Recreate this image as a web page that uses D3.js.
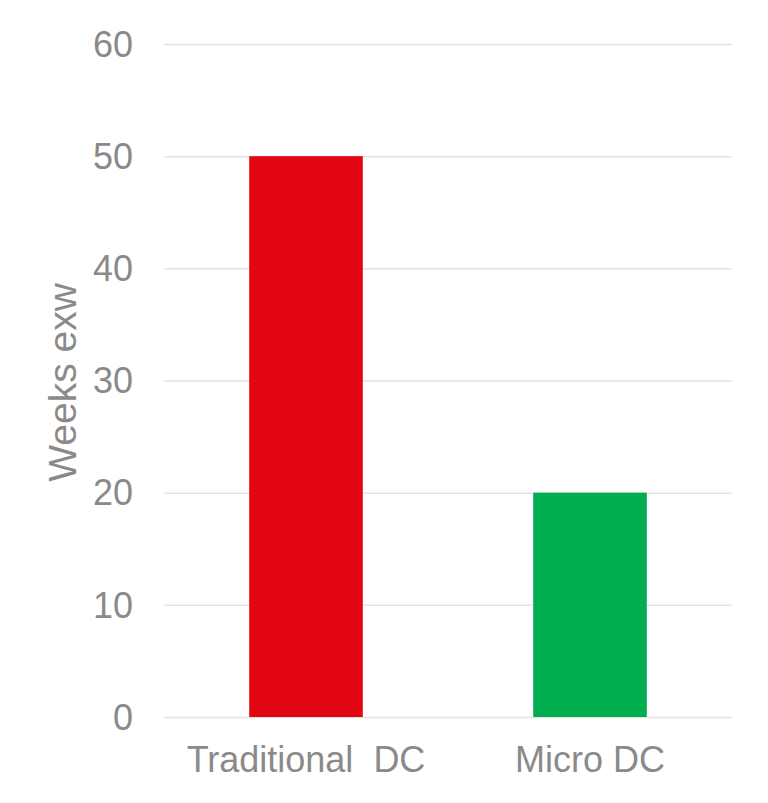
<!DOCTYPE html>
<html lang="en">
	<head>
		<meta charset="utf-8">
		<title>Weeks exw</title>
		<script src="https://unpkg.com/d3@7/dist/d3.min.js"></script>
		<style>
			body { margin: 0; background: #fff; }
			text { font-family: "Liberation Sans", Arial, sans-serif; fill: #8a8a8a; }
		</style>
	</head>
	<body>
		<script type="text/javascript">

			//Chart data
			var categories = ["Traditional  DC", "Micro DC"];
			var weeks = [50, 20];
			var barColors = ["#e20613", "#00ae4f"];
			var yTicks = [0, 10, 20, 30, 40, 50, 60];

			//Width and height
			var w = 768;
			var h = 803;
			var margin = { top: 44, right: 36, bottom: 86, left: 164 };

			//Create SVG element
			var svg = d3.select("body")
						.append("svg")
						.attr("width", w)
						.attr("height", h);

			//Scales
			var x = d3.scaleBand()
					  .domain(categories)
					  .range([margin.left, w - margin.right])
					  .paddingInner(0.6)
					  .paddingOuter(0.3);

			var y = d3.scaleLinear()
					  .domain([0, 60])
					  .range([h - margin.bottom, margin.top]);

			//Gridlines and tick labels
			var yAxis = d3.axisLeft(y)
						  .tickValues(yTicks)
						  .tickSize(-(w - margin.left - margin.right))
						  .tickPadding(31)
						  .tickFormat(d3.format("d"));

			var gy = svg.append("g")
						.attr("transform", "translate(" + margin.left + ",0)")
						.call(yAxis);
			gy.select(".domain").remove();
			gy.selectAll(".tick line")
			  .attr("stroke", "#e3e3e3")
			  .attr("stroke-width", 1.5);
			gy.selectAll(".tick text")
			  .style("font-size", "36px")
			  .attr("dy", "0.34em");

			//Bars
			svg.selectAll("rect.bar")
			   .data(weeks)
			   .enter()
			   .append("rect")
			   .attr("class", "bar")
			   .attr("x", function(d, i) { return x(categories[i]); })
			   .attr("y", function(d) { return y(d); })
			   .attr("width", x.bandwidth())
			   .attr("height", function(d) { return y(0) - y(d); })
			   .attr("fill", function(d, i) { return barColors[i]; });

			//Category labels
			var xAxis = d3.axisBottom(x)
						  .tickSize(0)
						  .tickPadding(29);

			var gx = svg.append("g")
						.attr("transform", "translate(0," + y(0) + ")")
						.call(xAxis);
			gx.select(".domain").remove();
			gx.selectAll(".tick text")
			  .style("font-size", "36px")
			  .style("white-space", "pre")
			  .attr("dy", "0.71em");

			//Y axis title
			svg.append("text")
			   .attr("transform", "translate(76," + ((margin.top + h - margin.bottom) / 2 + 2) + ") rotate(-90)")
			   .style("text-anchor", "middle")
			   .style("font-size", "39px")
			   .text("Weeks exw");

		</script>
	</body>
</html>
